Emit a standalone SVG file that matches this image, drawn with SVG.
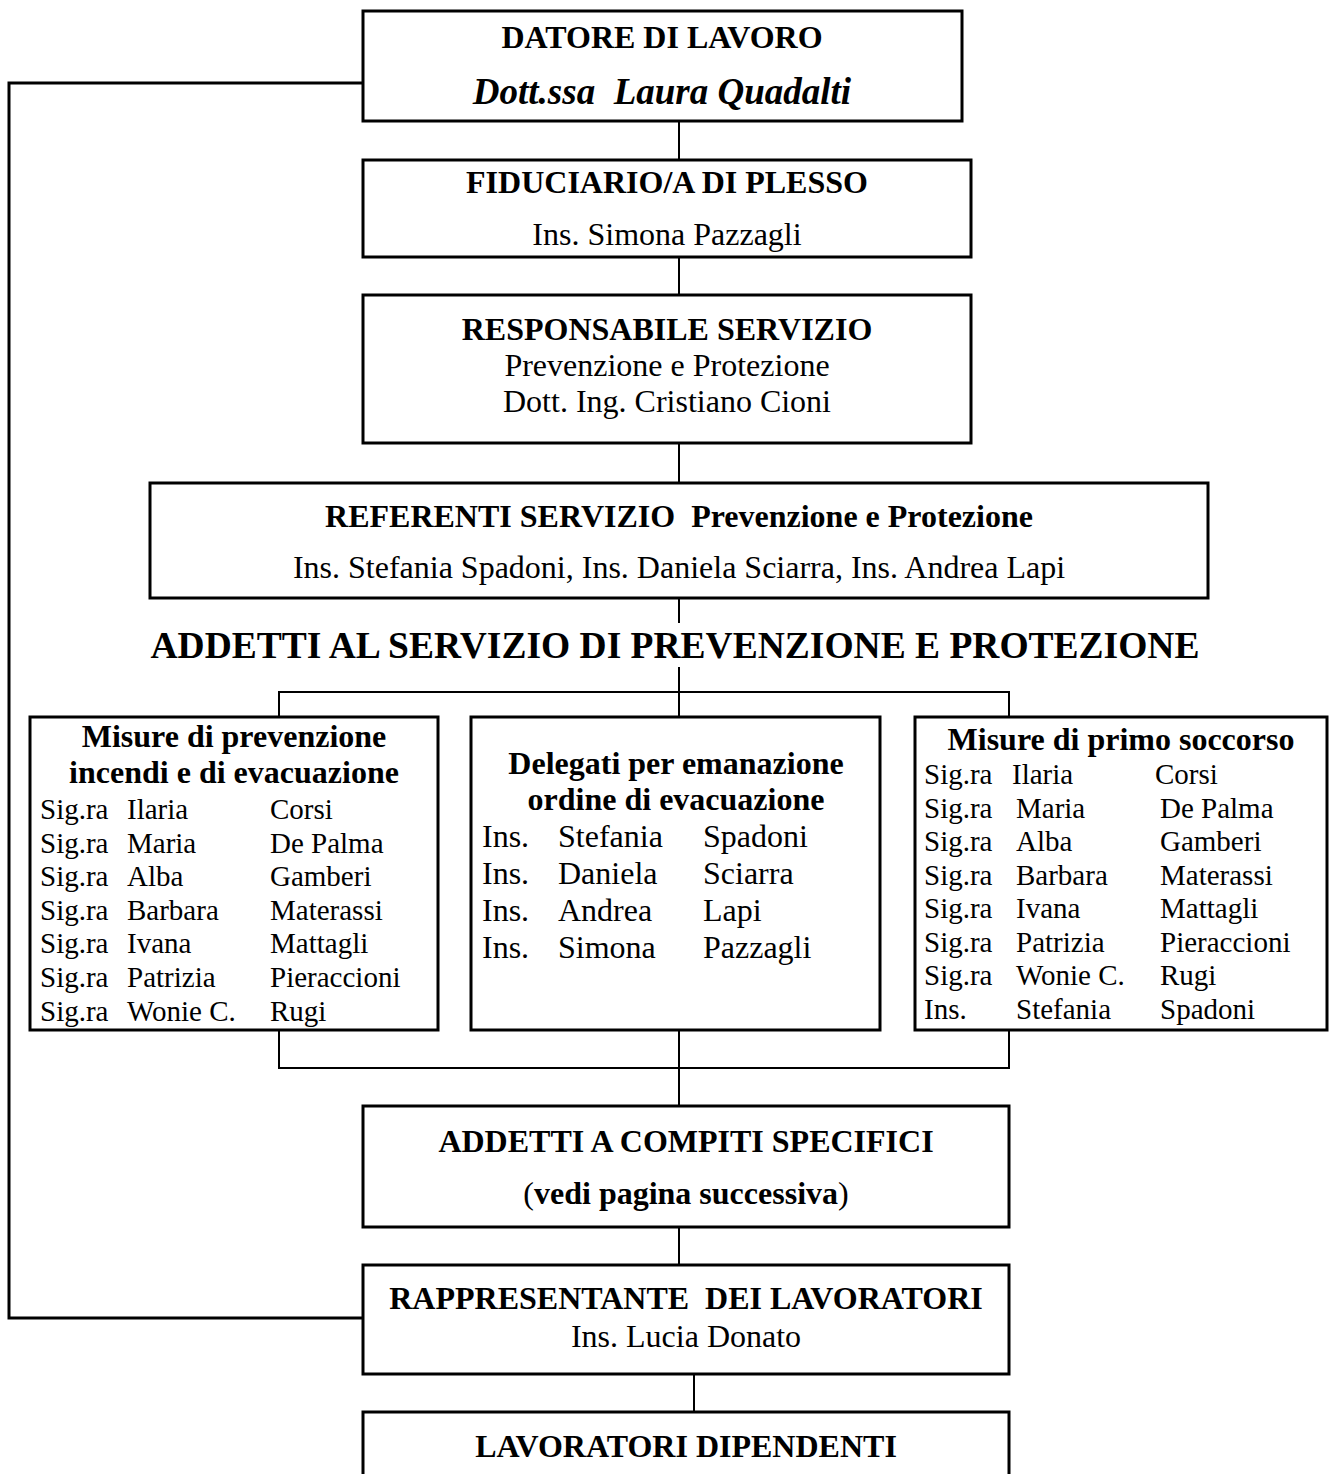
<svg xmlns="http://www.w3.org/2000/svg" width="1332" height="1474" viewBox="0 0 1332 1474">
<style>
text{font-family:"Liberation Serif","Times New Roman",serif;fill:#000}
.t{font-size:32px;text-anchor:middle}
.b{font-weight:bold}
.bi{font-weight:bold;font-style:italic}
.r{font-size:29px}
.m{font-size:32px}
.h{font-size:32px;font-weight:bold;text-anchor:middle}
.box{fill:#fff;stroke:#000;stroke-width:3}
.conn{fill:none;stroke:#000;stroke-width:2}
.side{fill:none;stroke:#000;stroke-width:3}
</style>
<rect width="1332" height="1474" fill="#fff"/>
<g id="connectors">
<polyline class="side" points="363,83 9,83 9,1318 363,1318"/>
<line class="conn" x1="679" y1="121" x2="679" y2="160"/>
<line class="conn" x1="679" y1="257" x2="679" y2="295"/>
<line class="conn" x1="679" y1="443" x2="679" y2="483"/>
<line class="conn" x1="679" y1="598" x2="679" y2="623"/>
<line class="conn" x1="679" y1="667" x2="679" y2="717"/>
<polyline class="conn" points="279,717 279,692 1009,692 1009,717"/>
<polyline class="conn" points="279,1030 279,1068 1009,1068 1009,1030"/>
<line class="conn" x1="679" y1="1030" x2="679" y2="1106"/>
<line class="conn" x1="679" y1="1227" x2="679" y2="1265"/>
<line class="conn" x1="694" y1="1374" x2="694" y2="1412"/>
</g>
<g id="datore">
<rect class="box" x="363" y="11" width="599" height="110"/>
<text class="t b" x="662" y="48">DATORE DI LAVORO</text>
<text class="t bi" x="662" y="104" style="font-size:37px">Dott.ssa&#160; Laura Quadalti</text>
</g>
<g id="fiduciario">
<rect class="box" x="363" y="160" width="608" height="97"/>
<text class="t b" x="667" y="193">FIDUCIARIO/A DI PLESSO</text>
<text class="t" x="667" y="245">Ins. Simona Pazzagli</text>
</g>
<g id="responsabile">
<rect class="box" x="363" y="295" width="608" height="148"/>
<text class="t b" x="667" y="340">RESPONSABILE SERVIZIO</text>
<text class="t" x="667" y="376">Prevenzione e Protezione</text>
<text class="t" x="667" y="412">Dott. Ing. Cristiano Cioni</text>
</g>
<g id="referenti">
<rect class="box" x="150" y="483" width="1058" height="115"/>
<text class="t b" x="679" y="527">REFERENTI SERVIZIO&#160; Prevenzione e Protezione</text>
<text class="t" x="679" y="578">Ins. Stefania Spadoni, Ins. Daniela Sciarra, Ins. Andrea Lapi</text>
</g>
<g id="titolo">
<text class="b" x="675" y="658" text-anchor="middle" style="font-size:37.5px">ADDETTI AL SERVIZIO DI PREVENZIONE E PROTEZIONE</text>
</g>
<g id="incendi">
<rect class="box" x="30" y="717" width="408" height="313"/>
<text class="h" x="234" y="747">Misure di prevenzione</text>
<text class="h" x="234" y="783">incendi e di evacuazione</text>
<g class="r">
<text x="40" y="819">Sig.ra</text><text x="127" y="819">Ilaria</text><text x="270" y="819">Corsi</text>
<text x="40" y="853">Sig.ra</text><text x="127" y="853">Maria</text><text x="270" y="853">De Palma</text>
<text x="40" y="886">Sig.ra</text><text x="127" y="886">Alba</text><text x="270" y="886">Gamberi</text>
<text x="40" y="920">Sig.ra</text><text x="127" y="920">Barbara</text><text x="270" y="920">Materassi</text>
<text x="40" y="953">Sig.ra</text><text x="127" y="953">Ivana</text><text x="270" y="953">Mattagli</text>
<text x="40" y="987">Sig.ra</text><text x="127" y="987">Patrizia</text><text x="270" y="987">Pieraccioni</text>
<text x="40" y="1021">Sig.ra</text><text x="127" y="1021">Wonie C.</text><text x="270" y="1021">Rugi</text>
</g>
</g>
<g id="delegati">
<rect class="box" x="471" y="717" width="409" height="313"/>
<text class="h" x="676" y="774">Delegati per emanazione</text>
<text class="h" x="676" y="810">ordine di evacuazione</text>
<g class="m">
<text x="482" y="847">Ins.</text><text x="558" y="847">Stefania</text><text x="703" y="847">Spadoni</text>
<text x="482" y="884">Ins.</text><text x="558" y="884">Daniela</text><text x="703" y="884">Sciarra</text>
<text x="482" y="921">Ins.</text><text x="558" y="921">Andrea</text><text x="703" y="921">Lapi</text>
<text x="482" y="958">Ins.</text><text x="558" y="958">Simona</text><text x="703" y="958">Pazzagli</text>
</g>
</g>
<g id="soccorso">
<rect class="box" x="915" y="717" width="412" height="313"/>
<text class="h" x="1121" y="750">Misure di primo soccorso</text>
<g class="r">
<text x="924" y="784">Sig.ra</text><text x="1012" y="784">Ilaria</text><text x="1155" y="784">Corsi</text>
<text x="924" y="818">Sig.ra</text><text x="1016" y="818">Maria</text><text x="1160" y="818">De Palma</text>
<text x="924" y="851">Sig.ra</text><text x="1016" y="851">Alba</text><text x="1160" y="851">Gamberi</text>
<text x="924" y="885">Sig.ra</text><text x="1016" y="885">Barbara</text><text x="1160" y="885">Materassi</text>
<text x="924" y="918">Sig.ra</text><text x="1016" y="918">Ivana</text><text x="1160" y="918">Mattagli</text>
<text x="924" y="952">Sig.ra</text><text x="1016" y="952">Patrizia</text><text x="1160" y="952">Pieraccioni</text>
<text x="924" y="985">Sig.ra</text><text x="1016" y="985">Wonie C.</text><text x="1160" y="985">Rugi</text>
<text x="924" y="1019">Ins.</text><text x="1016" y="1019">Stefania</text><text x="1160" y="1019">Spadoni</text>
</g>
</g>
<g id="compiti">
<rect class="box" x="363" y="1106" width="646" height="121"/>
<text class="t b" x="686" y="1152">ADDETTI A COMPITI SPECIFICI</text>
<text class="t" x="686" y="1204">(<tspan class="b">vedi pagina successiva</tspan>)</text>
</g>
<g id="rappresentante">
<rect class="box" x="363" y="1265" width="646" height="109"/>
<text class="t b" x="686" y="1309">RAPPRESENTANTE&#160; DEI LAVORATORI</text>
<text class="t" x="686" y="1347">Ins. Lucia Donato</text>
</g>
<g id="lavoratori">
<rect class="box" x="363" y="1412" width="646" height="80"/>
<text class="t b" x="686" y="1457">LAVORATORI DIPENDENTI</text>
</g>
</svg>
